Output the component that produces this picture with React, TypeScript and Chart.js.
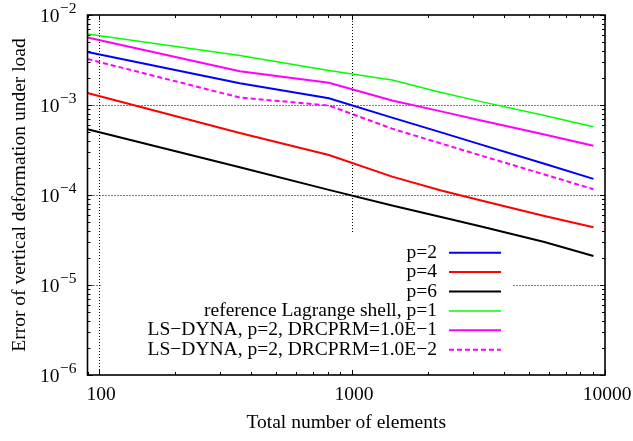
import React, { useEffect, useRef } from "react";
import { Chart, registerables } from "chart.js";

Chart.register(...registerables);

// ---- data ----
const elements = [90, 360, 810, 1440, 2250, 3240, 5760, 9000];
const p2 = [3.88e-3, 1.74e-3, 1.19e-3, 7.24e-4, 4.96e-4, 3.63e-4, 2.22e-4, 1.51e-4];
const p4 = [1.36e-3, 4.89e-4, 2.78e-4, 1.6e-4, 1.12e-4, 8.69e-5, 5.84e-5, 4.38e-5];
const p6 = [5.37e-4, 2.03e-4, 1.14e-4, 7.64e-5, 5.7e-5, 4.47e-5, 3.0e-5, 2.1e-5];
const lagrange = [6.15e-3, 3.55e-3, 2.42e-3, 1.9e-3, 1.38e-3, 1.09e-3, 7.64e-4, 5.74e-4];
const drc1 = [5.62e-3, 2.37e-3, 1.77e-3, 1.12e-3, 8.49e-4, 6.73e-4, 4.7e-4, 3.53e-4];
const drc2 = [3.24e-3, 1.21e-3, 9.87e-4, 5.46e-4, 3.73e-4, 2.74e-4, 1.69e-4, 1.16e-4];

const seriesLabels = [
  "p=2",
  "p=4",
  "p=6",
  "reference Lagrange shell, p=1",
  "LS\u2212DYNA, p=2, DRCPRM=1.0E\u22121",
  "LS\u2212DYNA, p=2, DRCPRM=1.0E\u22122",
];

const xTickValues = [100, 1000, 10000];
const xTickLabels = ["100", "1000", "10000"];
const yTickExponents = [-2, -3, -4, -5, -6];

const xTitle = "Total number of elements";
const yTitle = "Error of vertical deformation under load";

const FONT = '"Liberation Serif", "Times New Roman", serif';
const FS = 19.5;
const FS_EXP = 15.5;

const mk = (ys: number[]) => elements.map((x, i) => ({ x, y: ys[i] }));

const customPlugin = {
  id: "gnuplotStyle",
  beforeDatasetsDraw(chart: any) {
    const { ctx, chartArea: a, scales } = chart;
    const xs = scales.x;
    const ys = scales.y;
    ctx.save();
    // dotted major grid
    ctx.strokeStyle = "#000";
    ctx.lineWidth = 1;
    ctx.setLineDash([1, 2]);
    yTickExponents.forEach((e) => {
      const py = Math.round(ys.getPixelForValue(Math.pow(10, e))) + 0.5;
      if (py > a.top + 1 && py < a.bottom - 1) {
        ctx.beginPath();
        ctx.moveTo(a.left, py);
        ctx.lineTo(a.right, py);
        ctx.stroke();
      }
    });
    ctx.setLineDash([]);
    // opaque legend box (covers grid only)
    ctx.fillStyle = "#fff";
    ctx.fillRect(101, 233, 412, 136);
    // vertical grid lines
    ctx.setLineDash([1, 2]);
    xTickValues.forEach((v) => {
      const px = Math.round(xs.getPixelForValue(v)) + 0.5;
      if (px > a.left + 1 && px < a.right - 1) {
        ctx.beginPath();
        ctx.moveTo(px, a.top);
        if (px > 101) {
          ctx.lineTo(px, 233);
        } else {
          ctx.lineTo(px, a.bottom);
        }
        ctx.stroke();
      }
    });
    ctx.setLineDash([]);
    ctx.restore();
  },
  afterDatasetsDraw(chart: any) {
    const { ctx, chartArea: a, scales } = chart;
    const xs = scales.x;
    const ys = scales.y;
    ctx.save();
    // border
    ctx.strokeStyle = "#000";
    ctx.lineWidth = 1.6;
    ctx.strokeRect(a.left, a.top, a.right - a.left, a.bottom - a.top);

    // ticks (inside, mirrored)
    ctx.lineWidth = 1;
    const majorLen = 5;
    const minorLen = 3;
    const xMinE = Math.floor(Math.log10(xs.min));
    const xMaxE = Math.ceil(Math.log10(xs.max));
    for (let e = xMinE; e <= xMaxE; e++) {
      for (let m = 1; m <= 9; m++) {
        const v = m * Math.pow(10, e);
        if (v < xs.min || v > xs.max) continue;
        const px = Math.round(xs.getPixelForValue(v)) + 0.5;
        const len = m === 1 ? majorLen : minorLen;
        ctx.beginPath();
        ctx.moveTo(px, a.bottom);
        ctx.lineTo(px, a.bottom - len);
        ctx.moveTo(px, a.top);
        ctx.lineTo(px, a.top + len);
        ctx.stroke();
      }
    }
    const yMinE = Math.floor(Math.log10(ys.min));
    const yMaxE = Math.ceil(Math.log10(ys.max));
    for (let e = yMinE; e <= yMaxE; e++) {
      for (let m = 1; m <= 9; m++) {
        const v = m * Math.pow(10, e);
        if (v < ys.min * 0.999 || v > ys.max * 1.001) continue;
        const py = Math.round(ys.getPixelForValue(v)) + 0.5;
        const len = m === 1 ? majorLen : minorLen;
        ctx.beginPath();
        ctx.moveTo(a.left, py);
        ctx.lineTo(a.left + len, py);
        ctx.moveTo(a.right, py);
        ctx.lineTo(a.right - len, py);
        ctx.stroke();
      }
    }

    // tick labels
    ctx.fillStyle = "#000";
    ctx.textBaseline = "middle";
    ctx.textAlign = "center";
    ctx.font = `${FS}px ${FONT}`;
    xTickValues.forEach((v, i) => {
      const px = xs.getPixelForValue(v);
      ctx.fillText(xTickLabels[i], px + 2, a.bottom + 20);
    });
    yTickExponents.forEach((e) => {
      const py = ys.getPixelForValue(Math.pow(10, e));
      const expStr = "\u2212" + String(-e);
      ctx.textAlign = "right";
      ctx.font = `${FS_EXP}px ${FONT}`;
      const expRight = a.left - 11;
      ctx.fillText(expStr, expRight, py - 6.5);
      const w = ctx.measureText(expStr).width;
      ctx.font = `${FS}px ${FONT}`;
      ctx.fillText("10", expRight - w - 0.5, py + 1.5);
    });

    // axis titles
    ctx.textAlign = "center";
    ctx.font = `${FS}px ${FONT}`;
    ctx.fillText(xTitle, (a.left + a.right) / 2, 423);
    ctx.save();
    ctx.translate(20, (a.top + a.bottom) / 2);
    ctx.rotate(-Math.PI / 2);
    ctx.fillText(yTitle, 0, 0);
    ctx.restore();

    // legend
    const textRight = 437;
    const sx0 = 449;
    const sx1 = 501;
    const y0 = 252.7;
    const step = 19.4;
    chart.data.datasets.forEach((ds: any, i: number) => {
      const y = y0 + i * step;
      ctx.textAlign = "right";
      ctx.font = `${FS}px ${FONT}`;
      ctx.fillStyle = "#000";
      ctx.fillText(ds.label, textRight, y);
      ctx.strokeStyle = ds.borderColor;
      ctx.lineWidth = ds.borderWidth;
      ctx.setLineDash(ds.borderDash || []);
      ctx.beginPath();
      ctx.moveTo(sx0, y);
      ctx.lineTo(sx1, y);
      ctx.stroke();
      ctx.setLineDash([]);
    });
    ctx.restore();
  },
};

export default function App() {
  const ref = useRef<HTMLCanvasElement | null>(null);
  useEffect(() => {
    if (!ref.current) return;
    const colors = ["#0000ff", "#ff0000", "#000000", "#00ff00", "#ff00ff", "#ff00ff"];
    const values = [p2, p4, p6, lagrange, drc1, drc2];
    const chart = new Chart(ref.current, {
      type: "line",
      data: {
        datasets: values.map((v, i) => ({
          label: seriesLabels[i],
          data: mk(v),
          borderColor: colors[i],
          backgroundColor: colors[i],
          borderWidth: i === 3 ? 1.5 : 2,
          borderDash: i === 5 ? [5, 3] : [],
          pointRadius: 0,
          tension: 0,
          fill: false,
        })),
      },
      options: {
        animation: false,
        responsive: false,
        devicePixelRatio: 1,
        layout: { padding: { left: 87.5, right: 28, top: 15, bottom: 66 } },
        plugins: { legend: { display: false }, tooltip: { enabled: false } },
        scales: {
          x: { type: "logarithmic", min: 90, max: 10000, display: false },
          y: { type: "logarithmic", min: 1e-6, max: 1e-2, display: false },
        },
      },
      plugins: [customPlugin],
    });
    return () => chart.destroy();
  }, []);
  return (
    <div style={{ position: "fixed", left: 0, top: 0, width: 633, height: 441, background: "#fff" }}>
      <canvas ref={ref} width={633} height={441} style={{ display: "block" }} />
    </div>
  );
}
